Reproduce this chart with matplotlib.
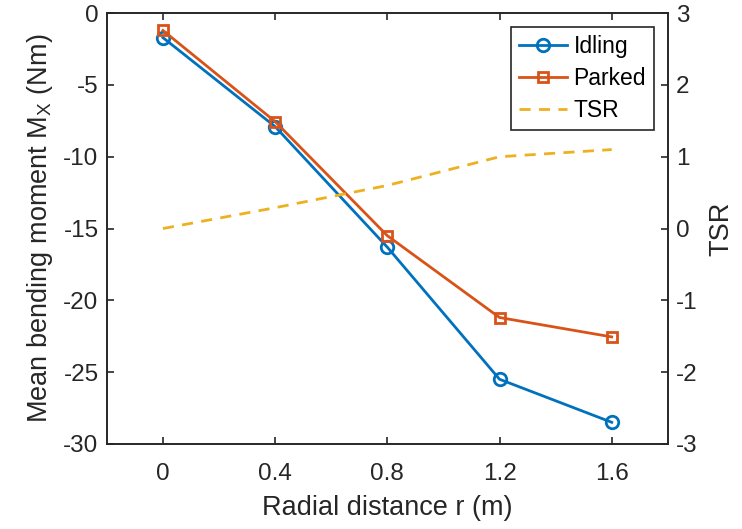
import matplotlib
matplotlib.use("Agg")
import matplotlib.pyplot as plt

r = [0, 0.4, 0.8, 1.2, 1.6]
idling = [-1.7, -7.9, -16.3, -25.5, -28.5]
parked = [-1.2, -7.55, -15.5, -21.2, -22.55]
tsr = [0.0, 0.29, 0.6, 1.0, 1.1]

xticks = [0, 0.4, 0.8, 1.2, 1.6]
xticklabels = ["0", "0.4", "0.8", "1.2", "1.6"]
yticks_left = [0, -5, -10, -15, -20, -25, -30]
yticks_right = [3, 2, 1, 0, -1, -2, -3]

plt.rcParams['font.family'] = ['Liberation Sans', 'DejaVu Sans']
plt.rcParams['axes.unicode_minus'] = False
ink = '#262626'

fig = plt.figure(figsize=(7.42, 5.29), dpi=100)
ax = fig.add_axes([0.144, 0.161, 0.756, 0.814])
ax2 = ax.twinx()

l1, = ax.plot(r, idling, color='#0072BD', lw=2, marker='o', ms=9, mfc='none', mew=2, label='Idling')
l2, = ax.plot(r, parked, color='#D95319', lw=2, marker='s', ms=7, mfc='none', mew=2, label='Parked')
l3, = ax2.plot(r, tsr, color='#EDB120', lw=2, ls=(0, (4, 3)), label='TSR')

ax.set_xlim(-0.2, 1.8)
ax.set_ylim(-30, 0)
ax2.set_ylim(-3, 3)
ax.set_xticks(xticks)
ax.set_xticklabels(xticklabels)
ax.set_yticks(yticks_left)
ax2.set_yticks(yticks_right)

for a in (ax, ax2):
    for s in a.spines.values():
        s.set_color(ink)
        s.set_linewidth(1.2)
ax.tick_params(axis='x', direction='in', top=True, length=5, width=1.2, labelsize=17.5, colors=ink, pad=14)
ax.tick_params(axis='y', direction='in', length=5, width=1.2, labelsize=17.5, colors=ink, pad=6)
ax2.tick_params(axis='y', direction='in', length=5, width=1.2, labelsize=17.5, colors=ink, pad=6)

ax.set_xlabel('Radial distance r (m)', fontsize=19.5, color=ink, labelpad=7)
ax.set_ylabel('Mean bending moment M$_\\mathregular{X}$ (Nm)', fontsize=19.5, color=ink, labelpad=6)
ax2.set_ylabel('TSR', fontsize=19.5, color=ink, labelpad=8)

leg = ax.legend(handles=[l1, l2, l3], loc='upper right', fontsize=16.5, frameon=True, fancybox=False,
                edgecolor=ink, framealpha=1, borderaxespad=0.6, handlelength=2.1, handletextpad=0.3,
                labelspacing=0.4, borderpad=0.35)
leg.get_frame().set_linewidth(1.2)

fig.savefig('out.png', dpi=100)
